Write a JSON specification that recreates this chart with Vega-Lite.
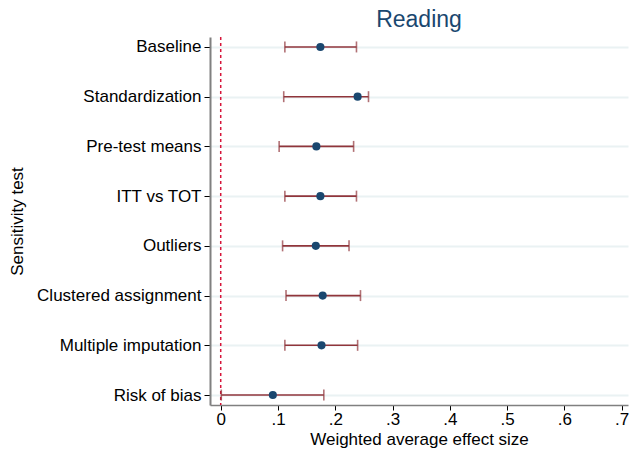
{
  "$schema": "https://vega.github.io/schema/vega-lite/v6.json",
  "autosize": "none",
  "width": 418,
  "height": 368,
  "padding": {"left": 210, "top": 37, "right": 2, "bottom": 49},
  "background": "white",
  "config": {
    "view": {"stroke": null},
    "font": "Liberation Sans",
    "axis": {"labelFont": "Liberation Sans", "titleFont": "Liberation Sans", "labelColor": "#000", "titleColor": "#000", "titleFontWeight": "normal"}
  },
  "title": {
    "text": "Reading",
    "fontSize": 23,
    "fontWeight": "normal",
    "color": "#1a476f",
    "anchor": "middle",
    "offset": 4
  },
  "datasets": {
    "tests": [
      {"test": "Baseline", "est": 0.174, "lo": 0.112, "hi": 0.237},
      {"test": "Standardization", "est": 0.239, "lo": 0.110, "hi": 0.258},
      {"test": "Pre-test means", "est": 0.167, "lo": 0.102, "hi": 0.232},
      {"test": "ITT vs TOT", "est": 0.174, "lo": 0.112, "hi": 0.237},
      {"test": "Outliers", "est": 0.166, "lo": 0.108, "hi": 0.224},
      {"test": "Clustered assignment", "est": 0.178, "lo": 0.114, "hi": 0.244},
      {"test": "Multiple imputation", "est": 0.176, "lo": 0.112, "hi": 0.239},
      {"test": "Risk of bias", "est": 0.091, "lo": 0.001, "hi": 0.180}
    ],
    "zero": [{"x": 0}]
  },
  "layer": [
    {
      "data": {"name": "tests"},
      "mark": {"type": "rule", "strokeWidth": 1.6, "color": "#90353b"},
      "encoding": {
        "y": {
          "field": "test",
          "type": "nominal",
          "sort": null,
          "scale": {"type": "point", "padding": 0.2},
          "axis": {
            "title": "Sensitivity test",
            "titleFontSize": 17,
            "titlePadding": 10,
            "labelFontSize": 17,
            "labelPadding": 3,
            "tickSize": 6,
            "tickColor": "#000",
            "domainColor": "#808080",
            "domainWidth": 2,
            "grid": true,
            "gridColor": "#eaf2f3",
            "gridWidth": 2
          }
        },
        "x": {
          "field": "lo",
          "type": "quantitative",
          "scale": {"domain": [-0.0187, 0.711], "nice": false, "zero": false},
          "axis": {
            "title": "Weighted average effect size",
            "titleFontSize": 17,
            "titlePadding": 4,
            "labelFontSize": 17,
            "labelPadding": 1,
            "values": [0, 0.1, 0.2, 0.3, 0.4, 0.5, 0.6, 0.7],
            "labelExpr": "datum.value == 0 ? '0' : replace(format(datum.value, '.1f'), '0.', '.')",
            "tickSize": 5,
            "tickColor": "#000",
            "domainColor": "#808080",
            "domainWidth": 1.5,
            "grid": false
          }
        },
        "x2": {"field": "hi"}
      }
    },
    {
      "data": {"name": "zero"},
      "mark": {"type": "rule", "color": "#d7153a", "strokeWidth": 1.5, "strokeDash": [3, 3]},
      "encoding": {"x": {"field": "x", "type": "quantitative"}}
    },
    {
      "data": {"name": "tests"},
      "mark": {"type": "tick", "orient": "vertical", "size": 11, "thickness": 1.6, "color": "#90353b"},
      "encoding": {
        "y": {"field": "test", "type": "nominal", "sort": null},
        "x": {"field": "lo", "type": "quantitative"}
      }
    },
    {
      "data": {"name": "tests"},
      "mark": {"type": "tick", "orient": "vertical", "size": 11, "thickness": 1.6, "color": "#90353b"},
      "encoding": {
        "y": {"field": "test", "type": "nominal", "sort": null},
        "x": {"field": "hi", "type": "quantitative"}
      }
    },
    {
      "data": {"name": "tests"},
      "mark": {"type": "circle", "size": 66, "opacity": 1, "color": "#1a476f"},
      "encoding": {
        "y": {"field": "test", "type": "nominal", "sort": null},
        "x": {"field": "est", "type": "quantitative"}
      }
    }
  ]
}
